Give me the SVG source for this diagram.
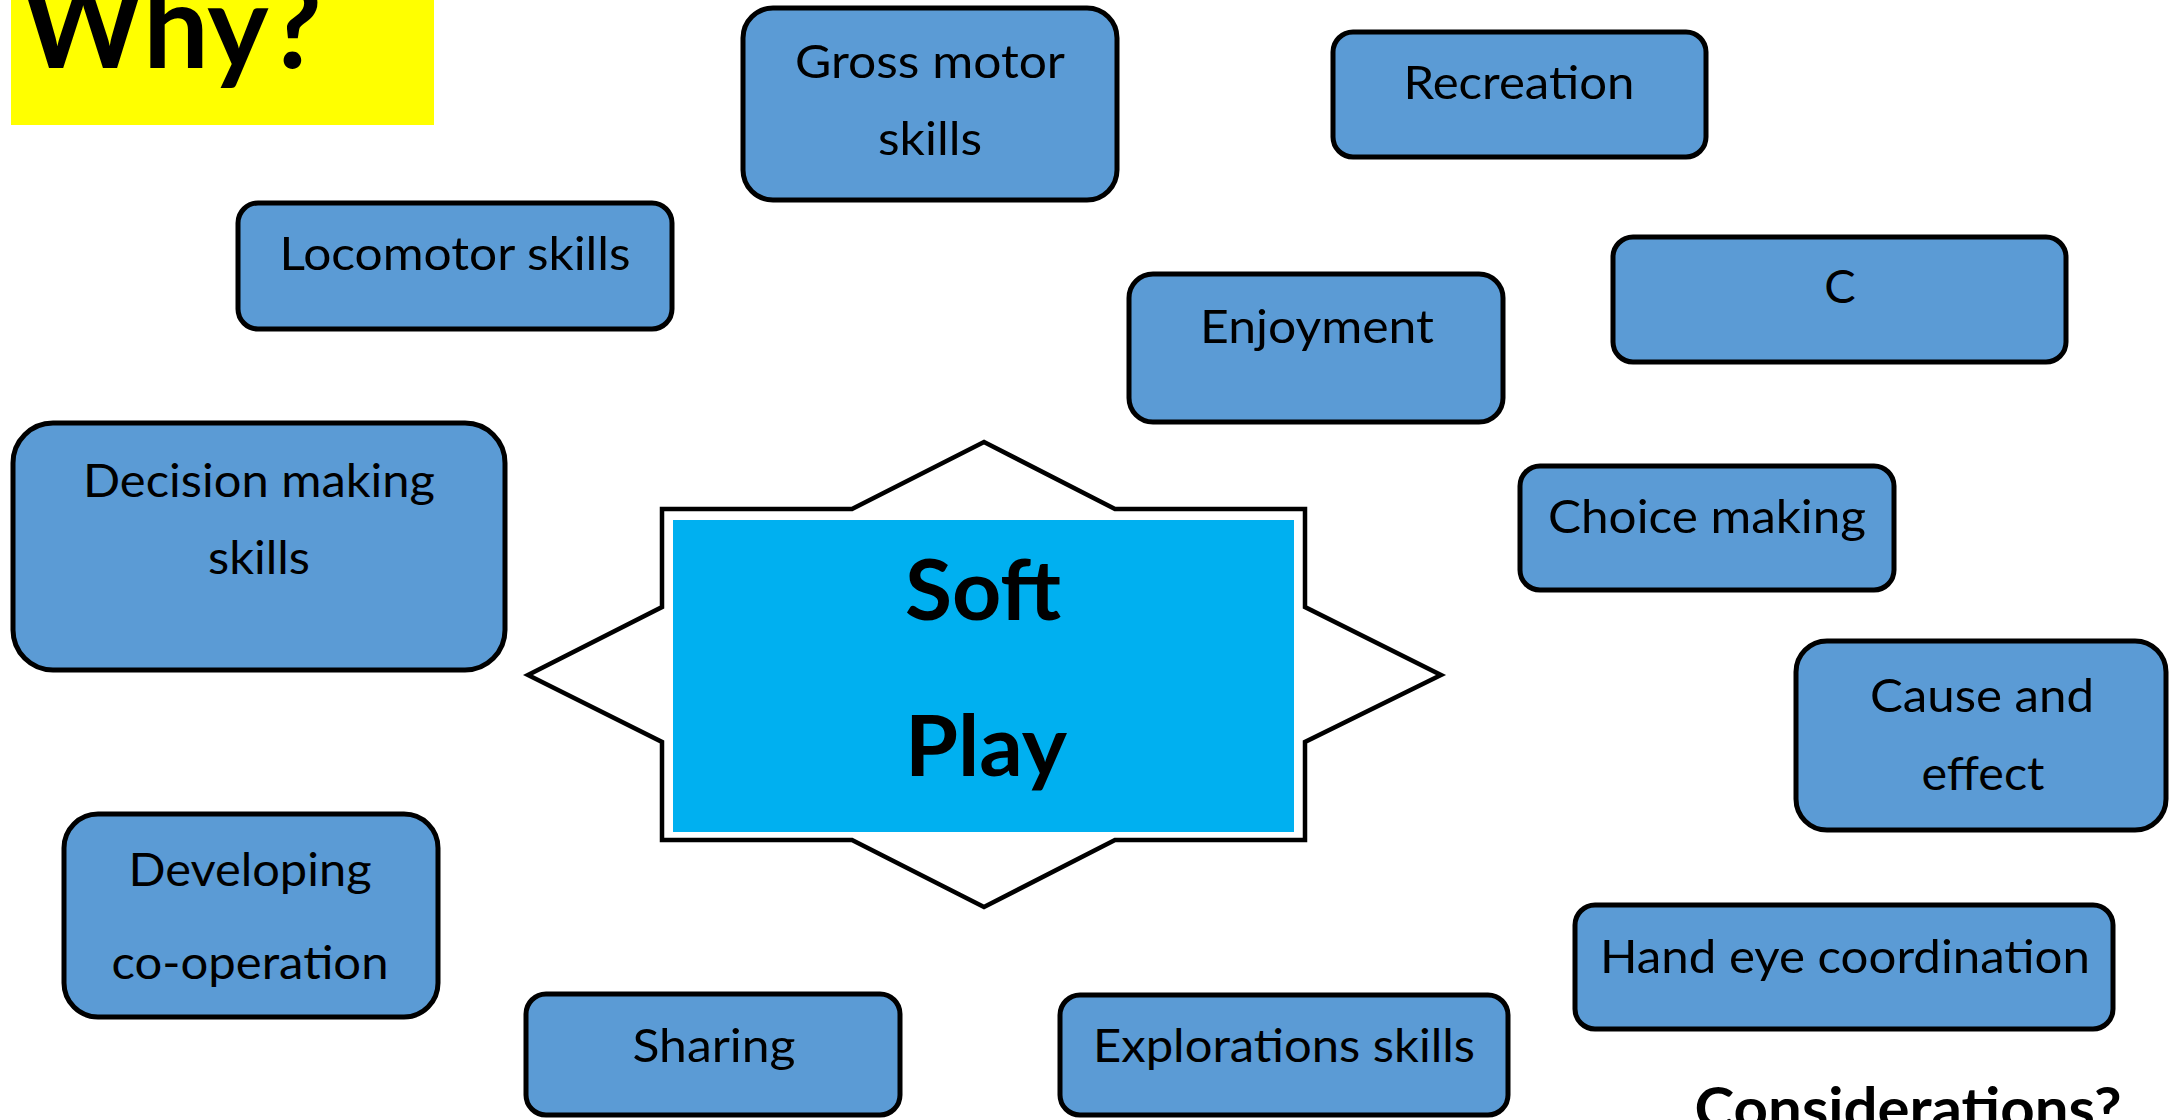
<svg xmlns="http://www.w3.org/2000/svg" width="2170" height="1120" viewBox="0 0 2170 1120">
<style>
.box{fill:#5B9BD5;stroke:#000;stroke-width:5}
.t{font-family:Lato,"Open Sans","Liberation Sans",sans-serif;font-size:47px;fill:#000;text-anchor:middle}
.b{font-family:Lato,"Open Sans","Liberation Sans",sans-serif;font-weight:bold;fill:#000;text-anchor:middle}
</style>
<rect width="2170" height="1120" fill="#fff"/>
<g id="title">
<rect x="11" y="0" width="423" height="125" fill="#FFFF00"/>
<text class="b" x="172" y="68" font-size="116" textLength="300" lengthAdjust="spacingAndGlyphs">Why?</text>
</g>
<g id="center">
<path d="M984,442 L1115,509 L1305,509 L1305,607 L1441,675 L1305,742 L1305,840 L1115,840 L984,907 L852,840 L662,840 L662,742 L528,675 L662,607 L662,509 L852,509 Z" fill="#fff" stroke="#000" stroke-width="4.5"/>
<rect x="673" y="520" width="621" height="312" fill="#00B0F0"/>
<text class="b" x="983" y="620" font-size="85" textLength="156" lengthAdjust="spacingAndGlyphs">Soft</text>
<text class="b" x="986" y="776" font-size="85" textLength="162" lengthAdjust="spacingAndGlyphs">Play</text>
</g>
<g id="gross-motor">
<rect class="box" x="743" y="8" width="374" height="192" rx="30"/>
<text class="t" x="930" y="78" textLength="270" lengthAdjust="spacingAndGlyphs">Gross motor</text>
<text class="t" x="930" y="155" textLength="104" lengthAdjust="spacingAndGlyphs">skills</text>
</g>
<g id="recreation">
<rect class="box" x="1333" y="32" width="373" height="125" rx="20"/>
<text class="t" x="1519" y="99" textLength="231" lengthAdjust="spacingAndGlyphs">Recreation</text>
</g>
<g id="locomotor">
<rect class="box" x="238" y="203" width="434" height="126" rx="20"/>
<text class="t" x="455" y="270" textLength="351" lengthAdjust="spacingAndGlyphs">Locomotor skills</text>
</g>
<g id="enjoyment">
<rect class="box" x="1129" y="274" width="374" height="148" rx="24"/>
<text class="t" x="1317" y="343" textLength="234" lengthAdjust="spacingAndGlyphs">Enjoyment</text>
</g>
<g id="c">
<rect class="box" x="1613" y="237" width="453" height="125" rx="20"/>
<text class="t" x="1840" y="303">C</text>
</g>
<g id="choice-making">
<rect class="box" x="1520" y="466" width="374" height="124" rx="20"/>
<text class="t" x="1707" y="533" textLength="318" lengthAdjust="spacingAndGlyphs">Choice making</text>
</g>
<g id="decision-making">
<rect class="box" x="13" y="423" width="492" height="247" rx="40"/>
<text class="t" x="259" y="497" textLength="352" lengthAdjust="spacingAndGlyphs">Decision making</text>
<text class="t" x="259" y="574" textLength="102" lengthAdjust="spacingAndGlyphs">skills</text>
</g>
<g id="cause-effect">
<rect class="box" x="1796" y="641" width="370" height="189" rx="31"/>
<text class="t" x="1982" y="712" textLength="224" lengthAdjust="spacingAndGlyphs">Cause and</text>
<text class="t" x="1983" y="790" textLength="123" lengthAdjust="spacingAndGlyphs">effect</text>
</g>
<g id="hand-eye">
<rect class="box" x="1575" y="905" width="538" height="124" rx="20"/>
<text class="t" x="1845" y="973" textLength="490" lengthAdjust="spacingAndGlyphs">Hand eye coordination</text>
</g>
<g id="developing">
<rect class="box" x="64" y="814" width="374" height="203" rx="34"/>
<text class="t" x="250" y="886" textLength="243" lengthAdjust="spacingAndGlyphs">Developing</text>
<text class="t" x="250" y="979" textLength="277" lengthAdjust="spacingAndGlyphs">co-operation</text>
</g>
<g id="sharing">
<rect class="box" x="526" y="994" width="374" height="121" rx="20"/>
<text class="t" x="714" y="1062" textLength="163" lengthAdjust="spacingAndGlyphs">Sharing</text>
</g>
<g id="explorations">
<rect class="box" x="1060" y="995" width="448" height="120" rx="20"/>
<text class="t" x="1284" y="1062" textLength="382" lengthAdjust="spacingAndGlyphs">Explorations skills</text>
</g>
<g id="considerations">
<text class="b" x="1908" y="1129" font-size="57" textLength="427" lengthAdjust="spacingAndGlyphs">Considerations?</text>
</g>
<g id="connectors"></g>
</svg>
